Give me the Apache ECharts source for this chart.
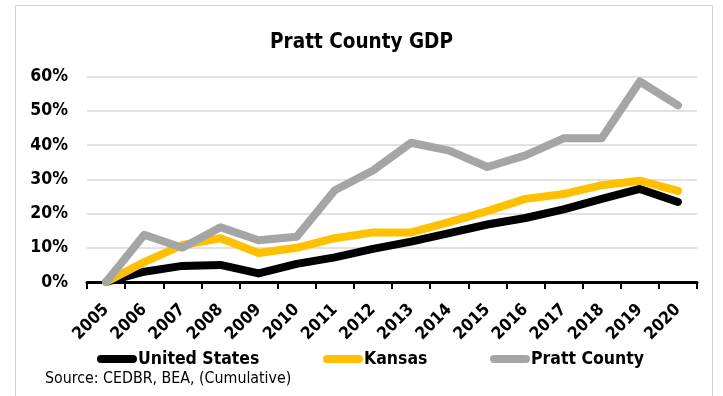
<!DOCTYPE html>
<html>
<head>
<meta charset="utf-8">
<script src="https://cdn.jsdelivr.net/npm/echarts@6/dist/echarts.min.js"></script>
<style>html,body{margin:0;padding:0;background:#fff;}#c{width:723px;height:396px;}</style>
</head>
<body>
<div id="c"></div>
<script>
var years = ['2005','2006','2007','2008','2009','2010','2011','2012','2013','2014','2015','2016','2017','2018','2019','2020'];
var unitedStates = [0, 3.0, 4.7, 5.0, 2.5, 5.3, 7.2, 9.7, 11.8, 14.3, 16.8, 18.7, 21.2, 24.3, 27.2, 23.4];
var kansas = [0, 5.8, 10.8, 12.8, 8.5, 10.0, 12.8, 14.5, 14.5, 17.5, 20.7, 24.3, 25.7, 28.3, 29.6, 26.6];
var prattCounty = [0, 13.8, 10.0, 16.0, 12.2, 13.2, 26.8, 32.6, 40.7, 38.4, 33.6, 37.0, 42.0, 42.0, 58.6, 51.6];
var seriesNames = ['United States', 'Kansas', 'Pratt County'];
var yTicks = [0, 10, 20, 30, 40, 50, 60];

var FONT = '"Liberation Sans Narrow", "DejaVu Sans Condensed", "Noto Sans", sans-serif';
var colors = ['#000000', '#FFC000', '#A5A5A5'];
var capsule = 'path://M4,0 L36,0 A4,4 0 0 1 36,8 L4,8 A4,4 0 0 1 4,0 Z';

function mkLegend(i, left) {
  return {
    data: [seriesNames[i]], left: left, top: 345, icon: capsule,
    itemWidth: 42, itemHeight: 8, itemGap: 0,
    textStyle: {fontFamily: FONT, fontWeight: 'bold', fontSize: 17.5, color: '#000', padding: [0,0,0,-5]}
  };
}
function mkLine(i, data) {
  return {
    name: seriesNames[i], type: 'line', data: data, symbol: 'none',
    lineStyle: {color: colors[i], width: 8, cap: 'round', join: 'round'},
    itemStyle: {color: colors[i]}, animation: false
  };
}

var chart = echarts.init(document.getElementById('c'), null, {renderer: 'canvas'});
chart.setOption({
  animation: false,
  backgroundColor: '#fff',
  title: {
    text: 'Pratt County GDP', left: 'center', top: 27,
    textStyle: {fontFamily: FONT, fontWeight: 'bold', fontSize: 20.5, color: '#000'}
  },
  legend: [mkLegend(0, 92), mkLegend(1, 318), mkLegend(2, 485)],
  grid: {left: 87, right: 26, top: 76.7, bottom: 114, containLabel: false},
  xAxis: {
    type: 'category', data: years, boundaryGap: true,
    axisLine: {lineStyle: {color: '#000', width: 3}},
    axisTick: {show: true, length: 7, lineStyle: {color: '#000', width: 2}, interval: 0},
    axisLabel: {rotate: 45, interval: 0, margin: 25, fontFamily: FONT, fontWeight: 'bold', fontSize: 17, color: '#000'},
    splitLine: {show: false}
  },
  yAxis: {
    type: 'value', min: yTicks[0], max: yTicks[yTicks.length - 1], interval: 10,
    axisLine: {show: false}, axisTick: {show: false},
    axisLabel: {formatter: '{value}%', margin: 19, fontFamily: FONT, fontWeight: 'bold', fontSize: 17.5, color: '#000'},
    splitLine: {lineStyle: {color: '#d9d9d9', width: 1.5}}
  },
  graphic: [
    {type: 'rect', shape: {x: 15.5, y: 5.5, width: 697, height: 395}, style: {fill: null, stroke: '#d0d0d0', lineWidth: 1}, silent: true, z: -1},
    {type: 'text', left: 45, top: 371, style: {text: 'Source: CEDBR, BEA, (Cumulative)', font: '15.8px ' + FONT, fill: '#000'}}
  ],
  series: [mkLine(0, unitedStates), mkLine(1, kansas), mkLine(2, prattCounty)]
});
</script>
</body>
</html>
